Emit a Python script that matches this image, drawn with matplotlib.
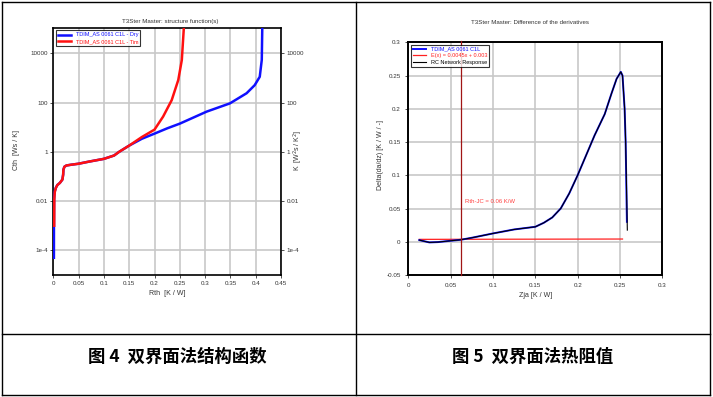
import numpy as np
import matplotlib
matplotlib.use("Agg")
import matplotlib.pyplot as plt
from matplotlib.lines import Line2D

plt.rcParams['font.family'] = ['Liberation Sans', 'DejaVu Sans']

# 图4 结构函数 (Rth, Cth)
rth_dry = [0.0012, 0.0013, 0.0015, 0.002, 0.003, 0.005, 0.008, 0.013, 0.018, 0.0195, 0.020, 0.022,
           0.026, 0.035, 0.05, 0.07, 0.1, 0.12, 0.13, 0.15, 0.175, 0.2, 0.225, 0.25, 0.303, 0.349,
           0.382, 0.398, 0.408, 0.412, 0.413]
cth_dry = [5e-5, 1e-3, 0.01, 0.018, 0.025, 0.035, 0.045, 0.055, 0.075, 0.12, 0.19, 0.25,
           0.28, 0.30, 0.33, 0.40, 0.52, 0.71, 1.0, 1.8, 3.4, 5.5, 9, 14, 43, 93,
           240, 510, 1120, 5400, 1.1e5]
rth_tim = [0.0018, 0.002, 0.003, 0.005, 0.008, 0.013, 0.018, 0.0195, 0.020, 0.022,
           0.026, 0.035, 0.05, 0.07, 0.1, 0.12, 0.13, 0.15, 0.175, 0.2, 0.217, 0.234,
           0.247, 0.254, 0.258]
cth_tim = [1e-3, 0.012, 0.024, 0.034, 0.045, 0.055, 0.075, 0.12, 0.19, 0.25,
           0.28, 0.30, 0.33, 0.40, 0.52, 0.71, 1.0, 1.8, 4.0, 8.0, 27, 126,
           830, 5400, 1.1e5]

# 图5 微分差值
zja = [0.013, 0.018, 0.025, 0.035, 0.05, 0.062, 0.075, 0.1, 0.125, 0.15, 0.16, 0.17, 0.18,
       0.19, 0.2, 0.21, 0.22, 0.232, 0.24, 0.246, 0.251, 0.253, 0.2555, 0.2567, 0.2582]
delta = [0.0025, 0.001, -0.001, -0.0005, 0.0015, 0.003, 0.006, 0.0125, 0.0185, 0.0225, 0.0285,
         0.0365, 0.05, 0.0725, 0.1, 0.13, 0.16, 0.192, 0.223, 0.245, 0.2555, 0.25, 0.2, 0.15, 0.03]
zja_rc = zja[:-1] + [0.2587]
delta_rc = delta[:-1] + [0.0175]
ex_x = [0.013, 0.253]
ex_y = [0.0036, 0.0041]
rth_jc = 0.062

fig = plt.figure(figsize=(7.13, 3.97), dpi=100)
W, H = 713, 397

def px(x0, y0, x1, y1):
    return [x0 / W, 1 - y1 / H, (x1 - x0) / W, (y1 - y0) / H]

tc = '#333333'
fs = 4.5

# ---- 左图
ax1 = fig.add_axes(px(53.3, 28, 281, 275))
ax1.plot(rth_dry, cth_dry, color='#1010ff', lw=1.8, zorder=3)
ax1.plot(rth_tim, cth_tim, color='#ff1010', lw=1.8, zorder=4)
ax1.set_yscale('log')
ax1.set_xlim(0, 0.45)
ax1.set_ylim(1e-5, 1.07e5)
ax1.set_xticks(np.arange(0, 0.451, 0.05))
ax1.set_xticklabels(['0', '0.05', '0.1', '0.15', '0.2', '0.25', '0.3', '0.35', '0.4', '0.45'])
yt = [1e-4, 1e-2, 1, 100, 10000]
ytl = ['1e-4', '0.01', '1', '100', '10000']
ax1.set_yticks(yt)
ax1.set_yticklabels(ytl)
ax1.minorticks_off()
ax1.grid(True, color='#c8c8c8', lw=1.2)
ax1.set_axisbelow(True)
ax1.tick_params(labelsize=fs, length=2, width=0.6, pad=2, colors=tc, right=True, labelright=True)
ax1.set_xlabel('Rth  [K / W]', fontsize=5, color=tc, labelpad=3)
fig.text(16 / W, 1 - 150 / H, 'Cth  [Ws / K]', rotation=90, fontsize=5, color=tc,
         ha='center', va='center')
fig.text(298 / W, 1 - 150 / H, 'K  [W$^2$s / K$^2$]', rotation=90, fontsize=5, color=tc,
         ha='center', va='center')
for s in ax1.spines.values():
    s.set_linewidth(1.2)
leg1 = ax1.legend(['TDIM_AS 0061 C1L - Dry', 'TDIM_AS 0061 C1L - Tim'], loc='upper left',
                  fontsize=4, frameon=True, fancybox=False, edgecolor='black',
                  labelcolor='linecolor', handlelength=2.4, borderaxespad=0.4,
                  borderpad=0.4, labelspacing=0.3)
leg1.get_frame().set_linewidth(0.8)
fig.text(170 / W, 1 - 22 / H, 'T3Ster Master: structure function(s)', fontsize=4.4,
         color=tc, ha='center', va='center')

# ---- 右图
ax2 = fig.add_axes(px(408.3, 42.3, 662.3, 275))
ax2.plot(zja, delta, color='#1010ff', lw=1.4, zorder=3, label='TDIM_AS 0061 C1L')
ax2.plot(ex_x, ex_y, color='#ff2020', lw=0.9, zorder=2, label='E(x) = 0.0045x + 0.003')
ax2.plot(zja_rc, delta_rc, color='black', lw=0.8, zorder=4, label='RC Network Response')
ax2.plot([rth_jc, rth_jc], [-0.05, 0.302], color='#a01515', lw=0.9, clip_on=False, zorder=5)
ax2.text(0.0665, 0.061, 'Rth-JC = 0.06 K/W', fontsize=4.3, color='#ff4040', va='center')
ax2.set_xlim(0, 0.3)
ax2.set_ylim(-0.05, 0.3)
ax2.set_xticks(np.arange(0, 0.301, 0.05))
ax2.set_xticklabels(['0', '0.05', '0.1', '0.15', '0.2', '0.25', '0.3'])
ax2.set_yticks(np.arange(-0.05, 0.301, 0.05))
ax2.set_yticklabels(['-0.05', '0', '0.05', '0.1', '0.15', '0.2', '0.25', '0.3'])
ax2.grid(True, color='#c8c8c8', lw=1.2)
ax2.set_axisbelow(True)
ax2.tick_params(labelsize=fs, length=2, width=0.6, colors=tc)
ax2.set_xlabel('Zja [K / W]', fontsize=5, color=tc, labelpad=3)
fig.text(380 / W, 1 - 155 / H, 'Delta(da/dz) [K / W / -]', rotation=90, fontsize=5,
         color=tc, ha='center', va='center')
for s in ax2.spines.values():
    s.set_linewidth(1.4)
leg2 = ax2.legend(loc='upper left', fontsize=4, frameon=True, fancybox=False,
                  edgecolor='black', labelcolor='linecolor', handlelength=2.4,
                  borderaxespad=0.4, borderpad=0.4, labelspacing=0.3)
leg2.get_frame().set_linewidth(0.8)
leg2.set_zorder(10)
fig.text(530 / W, 1 - 22 / H, 'T3Ster Master: Difference of the derivatives', fontsize=4.4,
         color=tc, ha='center', va='center')

# ---- 表格线
def hline(y, x0, x1):
    fig.add_artist(Line2D([x0 / W, x1 / W], [1 - y / H, 1 - y / H], color='black', lw=1.0))

def vline(x, y0, y1):
    fig.add_artist(Line2D([x / W, x / W], [1 - y0 / H, 1 - y1 / H], color='black', lw=1.0))

hline(2, 2, 710)
hline(334, 2, 710)
hline(395, 2, 710)
vline(2, 2, 395)
vline(356, 2, 395)
vline(710, 2, 395)

cap = ['Noto Sans CJK SC', 'DejaVu Sans']
fig.text(177 / W, 1 - 357 / H, '图 4  双界面法结构函数', fontsize=12.5, fontweight='bold',
         family=cap, ha='center', va='center')
fig.text(533 / W, 1 - 357 / H, '图 5  双界面法热阻值', fontsize=12.5, fontweight='bold',
         family=cap, ha='center', va='center')

fig.savefig('out.png', dpi=100)
